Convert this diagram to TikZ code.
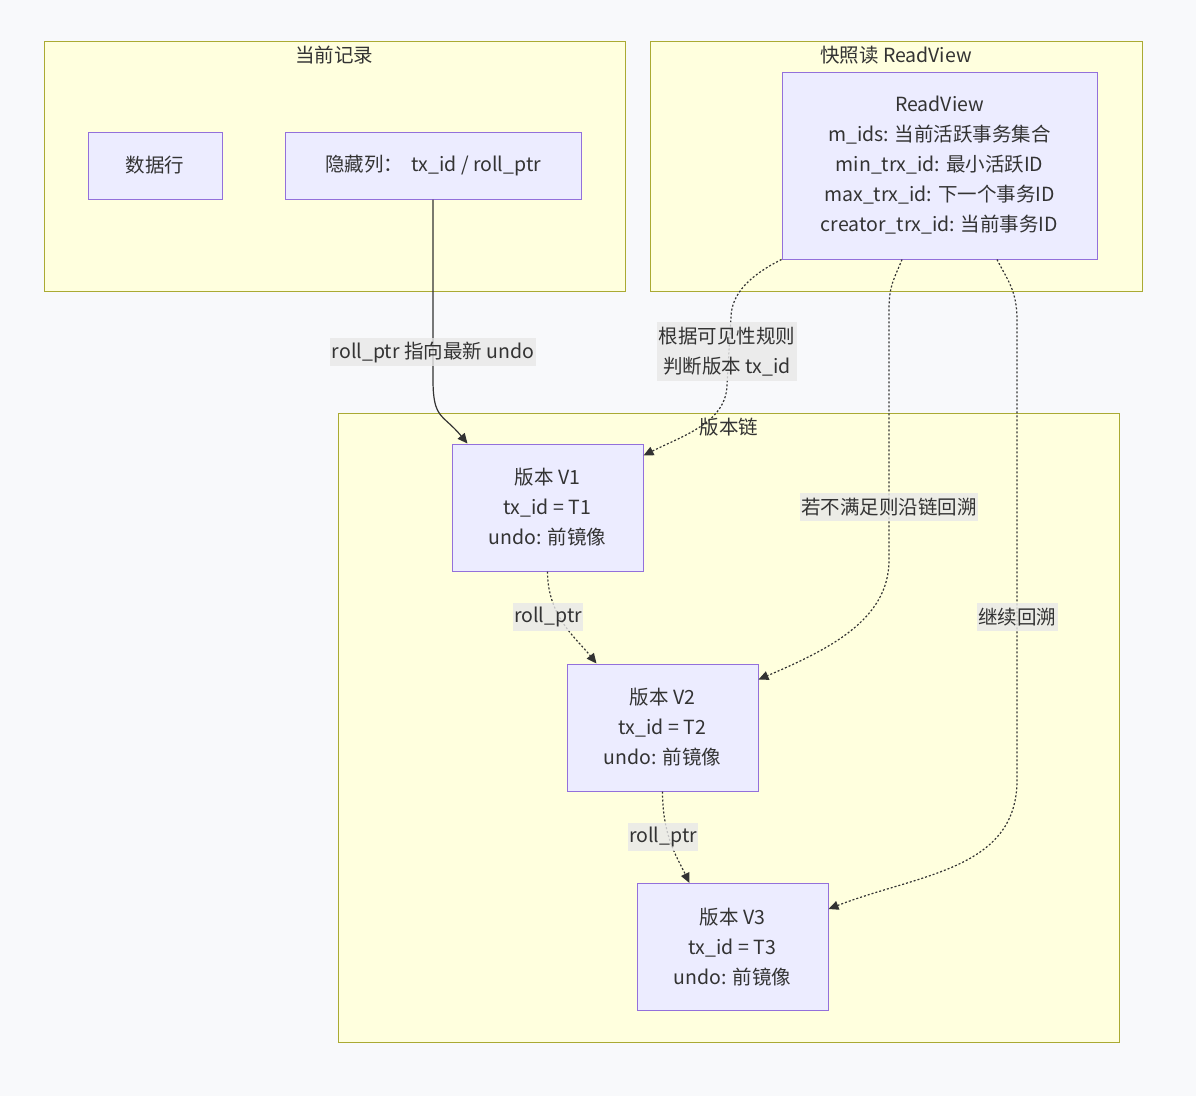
\documentclass[tikz,border=0pt]{standalone}
\usepackage{fontspec}
\setmainfont{Noto Sans CJK SC}
\usetikzlibrary{arrows.meta, positioning, calc}

\definecolor{pagebg}{HTML}{F8F9FB}
\definecolor{clusterfill}{HTML}{FFFFDE}
\definecolor{clusterline}{HTML}{AAAA33}
\definecolor{boxfill}{HTML}{ECECFF}
\definecolor{boxline}{HTML}{9370DB}
\definecolor{labelgray}{HTML}{E8E8E8}
\definecolor{ink}{HTML}{333333}

\tikzstyle{cluster}   = [draw=clusterline, fill=clusterfill, line width=1pt, inner sep=0pt]
\tikzstyle{title}     = [text=ink, inner sep=0pt, font=\fontsize{19.5}{30}\selectfont]
\tikzstyle{box}       = [draw=boxline, fill=boxfill, line width=1pt, inner sep=0pt, align=center, text=ink, font=\fontsize{19.5}{30}\selectfont]
\tikzstyle{edgelabel} = [fill=labelgray, fill opacity=0.8, text opacity=1, text=ink, align=center, inner xsep=1.5pt, inner ysep=0pt, font=\fontsize{19.5}{30}\selectfont]
\tikzstyle{arrow}     = [line width=1.2pt, draw=ink, -{Triangle[length=10pt,width=9pt]}]
\tikzstyle{dotarrow}  = [arrow, dash pattern=on 2pt off 2pt]

\begin{document}
\begin{tikzpicture}[x=1pt, y=-1pt]

    \useasboundingbox[fill=pagebg] (0,0) rectangle (1196,1096);

    % subgraphs
    \node[cluster, minimum width=581pt, minimum height=250pt] (record) at (334.5,166) {};
    \node[cluster, minimum width=492pt, minimum height=250pt] (snap)   at (896,166) {};
    \node[cluster, minimum width=781pt, minimum height=629pt] (chain)  at (728.5,727.5) {};

    \node[title] (recordT) at (334,55)  {当前记录};
    \node[title] (snapT)   at (896,55)  {快照读 ReadView};
    \node[title] (chainT)  at (729,427) {版本链};

    % nodes
    \node[box, minimum width=134pt, minimum height=67pt] (row)    at (155,165.5) {数据行};
    \node[box, minimum width=296pt, minimum height=67pt] (hidden) at (433,165.5) {隐藏列：\ \ tx\_id / roll\_ptr};
    \node[box, minimum width=315pt, minimum height=187pt] (rv) at (939.5,165.5)
        {ReadView\\m\_ids: 当前活跃事务集合\\min\_trx\_id: 最小活跃ID\\max\_trx\_id: 下一个事务ID\\creator\_trx\_id: 当前事务ID};

    \node[box, minimum width=191pt, minimum height=127pt] (v1) at (547.5,507.5) {版本 V1\\tx\_id = T1\\undo: 前镜像};
    \node[box, minimum width=191pt, minimum height=127pt] (v2) at (662.5,727.5) {版本 V2\\tx\_id = T2\\undo: 前镜像};
    \node[box, minimum width=191pt, minimum height=127pt] (v3) at (732.5,947)   {版本 V3\\tx\_id = T3\\undo: 前镜像};

    % waypoints
    \coordinate (visA)  at (731,318);
    \coordinate (visB)  at (727,384);
    \coordinate (backA) at (889,310);
    \coordinate (backB) at (889,560);
    \coordinate (moreA) at (1017,320);
    \coordinate (moreB) at (1017,780);

    % edges
    \draw[arrow] (hidden.south) -- ++(0,180) .. controls +(0,40) and +(-25,-30) .. ([xshift=16pt]v1.north west);
    \draw[dotarrow] (rv.south west) .. controls +(-30,15) and +(0,-25) .. (visA) -- (visB)
        .. controls +(0,38) and +(40,-20) .. ([yshift=-12pt]v1.north east);
    \draw[dotarrow] ([xshift=-37.5pt]rv.south) .. controls +(-8,20) and +(0,-25) .. (backA) -- (backB)
        .. controls +(0,60) and +(70,-30) .. ([yshift=-16pt]v2.north east);
    \draw[dotarrow] ([xshift=57.5pt]rv.south) .. controls +(10,20) and +(0,-30) .. (moreA) -- (moreB)
        .. controls +(0,90) and +(90,-35) .. ([yshift=-26pt]v3.north east);
    \draw[dotarrow] (v1.south) .. controls +(0,45) and +(-20,-25) .. ([xshift=30pt]v2.north west);
    \draw[dotarrow] (v2.south) .. controls +(0,45) and +(-12,-25) .. ([xshift=53pt]v3.north west);

    % edge labels
    \node[edgelabel, minimum height=28pt] (lblRoll) at (433,352)  {roll\_ptr 指向最新 undo};
    \node[edgelabel, minimum height=59pt] (lblVis)  at (727,351.5) {根据可见性规则\\判断版本 tx\_id};
    \node[edgelabel, minimum height=28pt] (lblBack) at (889,507)  {若不满足则沿链回溯};
    \node[edgelabel, minimum height=28pt] (lblMore) at (1017,617) {继续回溯};
    \node[edgelabel, minimum height=28pt] (lblP1)   at (548,617)  {roll\_ptr};
    \node[edgelabel, minimum height=28pt] (lblP2)   at (663,837)  {roll\_ptr};

\end{tikzpicture}
\end{document}
